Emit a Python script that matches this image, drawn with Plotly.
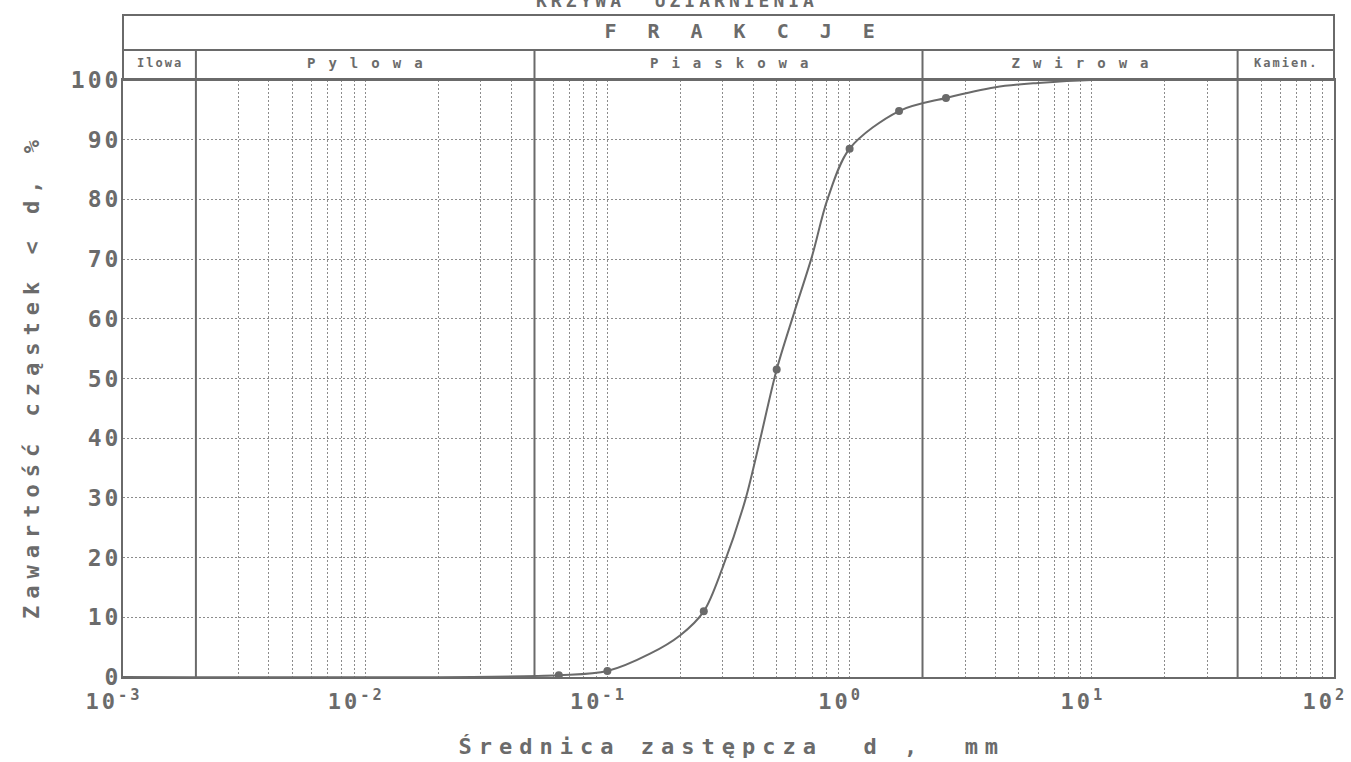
import json
import math
import plotly.graph_objects as go

# ---------------- data ----------------
sieve_d = [0.063, 0.1, 0.25, 0.5, 1.0, 1.6, 2.5]            # mm (plotted points)
passing_pct = [0.3, 1.0, 11.0, 51.5, 88.5, 94.8, 97.0]       # %

curve_d = [0.001, 0.063, 0.1, 0.15, 0.2, 0.25, 0.3, 0.37, 0.42, 0.5,
           0.59, 0.7, 0.81, 1.0, 1.6, 2.5, 4.0, 6.0, 10.0, 100.0]
curve_pct = [0.0, 0.3, 1.0, 3.9, 7.0, 11.0, 18.5, 29.5, 38.5, 51.5,
             61.0, 70.5, 80.0, 88.5, 94.8, 97.0, 98.8, 99.5, 100.0, 100.0]

fraction_bounds = [0.001, 0.002, 0.05, 2.0, 40.0, 100.0]
fraction_names = ["Ilowa", "Pylowa", "Piaskowa", "Zwirowa", "Kamien."]
fraction_sizes = [12, 14, 14, 14, 12]
fraction_spacing = [2, 13, 13, 13, 2]

decade_ticks = [0.001, 0.01, 0.1, 1, 10, 100]
decade_labels = ["10<sup>-3</sup>", "10<sup>-2</sup>", "10<sup>-1</sup>",
                 "10<sup>0</sup>", "10<sup>1</sup>", "10<sup>2</sup>"]
pct_ticks = [0, 10, 20, 30, 40, 50, 60, 70, 80, 90, 100]

chart_title = "KRZYWA  UZIARNIENIA"
header_title = "FRAKCJE"
x_title = "Średnica zastępcza  d ,  mm"
y_title = "Zawartość cząstek < d, %"

# ---------------- style ----------------
W, H = 1351, 762
ML, MR, MT, MB = 123, 17, 80, 85
PH = H - MT - MB
PW = W - ML - MR
TXT = "#6b6b6b"
FRAME = "#6a6a6a"
GRID = "#8c8c8c"
FONT = "DejaVu Sans Mono"


def py(pix):
    """pixel row -> paper y"""
    return (H - MB - pix) / PH


def px(pix):
    return (pix - ML) / PW


HDR_TOP = py(15)
HDR_MID = py(50)

fig = go.Figure()
fig.add_trace(go.Scatter(
    x=curve_d, y=curve_pct, mode="lines",
    line=dict(color=FRAME, width=2, shape="spline", smoothing=0.9),
    hoverinfo="skip", showlegend=False))
fig.add_trace(go.Scatter(
    x=sieve_d, y=passing_pct, mode="markers",
    marker=dict(color=FRAME, size=8, symbol="circle"),
    showlegend=False))

shapes = []
# fraction boundary lines (solid), through plot and lower header row
for b in fraction_bounds[1:-1]:
    shapes.append(dict(type="line", xref="x", yref="paper", x0=b, x1=b,
                       y0=0, y1=HDR_MID, line=dict(color=FRAME, width=2)))
# header box
shapes.append(dict(type="rect", xref="paper", yref="paper", x0=0, x1=1,
                   y0=1, y1=HDR_TOP, line=dict(color=FRAME, width=2)))
shapes.append(dict(type="line", xref="paper", yref="paper", x0=0, x1=1,
                   y0=HDR_MID, y1=HDR_MID, line=dict(color=FRAME, width=2)))

annotations = []
spacing = []


def ann(text, x, y, size, sp, xref="paper", angle=0, xshift=0, yshift=0):
    annotations.append(dict(text=text, xref=xref, yref="paper", x=x, y=y,
                            xanchor="center", yanchor="middle",
                            showarrow=False, textangle=angle,
                            xshift=xshift, yshift=yshift,
                            font=dict(family=FONT, size=size, color=TXT,
                                      weight="bold")))
    spacing.append(sp)


ann(chart_title, px(675), py(0), 18, 4, xshift=2)
ann(header_title, px(740), py(31), 20, 31, xshift=15)
for i, name in enumerate(fraction_names):
    lo, hi = fraction_bounds[i], fraction_bounds[i + 1]
    xc = (math.log10(lo) + math.log10(hi)) / 2
    ann(name, xc, py(63), fraction_sizes[i], fraction_spacing[i], xref="x",
        xshift=fraction_spacing[i] / 2)
ann(x_title, px(728), py(746), 22, 7, xshift=4)
ann(y_title, px(31), py(372), 22, 7, angle=-90, yshift=-4)

fig.update_layout(
    width=W, height=H, autosize=False,
    margin=dict(l=ML, r=MR, t=MT, b=MB, autoexpand=False),
    paper_bgcolor="white", plot_bgcolor="white",
    showlegend=False,
    shapes=shapes, annotations=annotations,
    xaxis=dict(type="log", range=[-3, 2], tickmode="array",
               tickvals=decade_ticks, ticktext=decade_labels, ticks="",
               showgrid=True, gridcolor=GRID, gridwidth=1, griddash="2px,2px",
               minor=dict(dtick="D1", showgrid=True, gridcolor=GRID,
                          gridwidth=1, griddash="2px,2px", ticks=""),
               showline=True, linecolor=FRAME, linewidth=2, mirror=True,
               zeroline=False, automargin=False, ticklabelstandoff=4,
               ticklabelshift=-9, ticklabeloverflow="allow",
               tickfont=dict(family=FONT, size=22, color=TXT, weight="bold")),
    yaxis=dict(range=[0, 100], tickmode="array", tickvals=pct_ticks, ticks="",
               showgrid=True, gridcolor=GRID, gridwidth=1, griddash="2px,2px",
               showline=True, linecolor=FRAME, linewidth=2, mirror=True,
               zeroline=False, automargin=False, ticklabelstandoff=-5,
               tickfont=dict(family=FONT, size=23, color=TXT, weight="bold")),
)

js = """
document.body.style.margin = '0';
var gd = document.getElementById('{plot_id}');
var sp = %s;
sp.forEach(function(s, i){
  gd.querySelectorAll('g.annotation[data-index="' + i + '"] text').forEach(function(t){
    t.style.letterSpacing = s + 'px';
  });
});
gd.querySelectorAll('g.xtick text').forEach(function(t){ t.style.letterSpacing = '3px'; });
gd.querySelectorAll('g.ytick text').forEach(function(t){ t.style.letterSpacing = '3px'; });
""" % json.dumps(spacing)

fig.write_html("out.html", config={"displayModeBar": False, "responsive": False},
               post_script=js)
